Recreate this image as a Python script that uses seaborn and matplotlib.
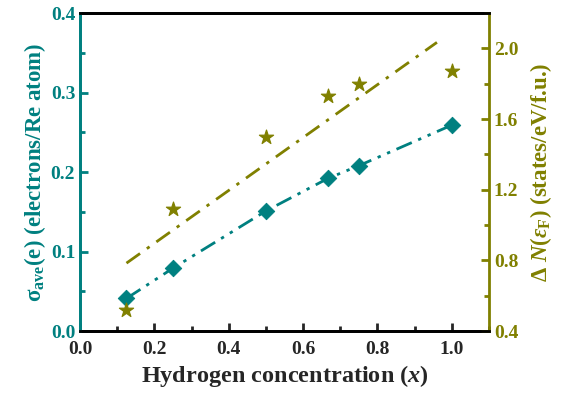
import numpy as np
import pandas as pd
import seaborn as sns
import matplotlib.pyplot as plt
from matplotlib.ticker import MultipleLocator

# data
h_conc = [0.125, 0.25, 0.5, 0.667, 0.75, 1.0]
sigma_ave = [0.041, 0.079, 0.151, 0.192, 0.208, 0.259]
delta_dos = [0.52, 1.09, 1.50, 1.73, 1.80, 1.87]
fit_range = [0.125, 0.96]

teal = "#008080"
olive = "#808000"

sns.set_style("ticks")
plt.rcParams["font.family"] = ["Liberation Serif", "DejaVu Serif"]
plt.rcParams["font.weight"] = "bold"
plt.rcParams["mathtext.fontset"] = "custom"
plt.rcParams["mathtext.rm"] = "Liberation Serif"
plt.rcParams["mathtext.it"] = "Liberation Serif:italic"
plt.rcParams["mathtext.bf"] = "Liberation Serif:bold"
plt.rcParams["mathtext.bfit"] = "Liberation Serif:italic:bold"

df = pd.DataFrame({"x": h_conc, "sigma": sigma_ave, "dos": delta_dos})

# linear fit of the DOS change
slope, icpt = np.polyfit(h_conc, delta_dos, 1)
fit_df = pd.DataFrame({"x": fit_range})
fit_df["y"] = slope * fit_df["x"] + icpt

fig = plt.figure(figsize=(5.73, 3.95), dpi=100)
ax = fig.add_axes([0.1396, 0.162, 0.7138, 0.805])
ax2 = ax.twinx()

# sigma_ave (left axis)
sns.lineplot(data=df, x="x", y="sigma", ax=ax, color=teal, lw=2,
             legend=False)
ax.lines[-1].set_dashes([6, 2.5, 1.2, 2.5, 1.2, 2.5])
sns.scatterplot(data=df, x="x", y="sigma", ax=ax, color=teal, marker="D",
                s=70, edgecolor=teal, zorder=3)

# delta N(eF) (right axis)
sns.lineplot(data=fit_df, x="x", y="y", ax=ax2, color=olive, lw=2,
             legend=False)
ax2.lines[-1].set_dashes([6, 3, 1.2, 3])
sns.scatterplot(data=df, x="x", y="dos", ax=ax2, color=olive, marker="*",
                s=115, edgecolor=olive, zorder=3)

ax.set_xlim(0, 1.1)
ax.set_ylim(0, 0.4)
ax2.set_ylim(0.4, 2.2)

ax.xaxis.set_major_locator(MultipleLocator(0.2))
ax.xaxis.set_minor_locator(MultipleLocator(0.1))
ax.yaxis.set_major_locator(MultipleLocator(0.1))
ax.yaxis.set_minor_locator(MultipleLocator(0.05))
ax2.yaxis.set_major_locator(MultipleLocator(0.4))
ax2.yaxis.set_minor_locator(MultipleLocator(0.2))
ax2.set_yticks([0.4, 0.8, 1.2, 1.6, 2.0])

for a in (ax, ax2):
    for s in a.spines.values():
        s.set_linewidth(2)
        s.set_color("black")
ax2.spines["left"].set_color(teal)
ax2.spines["right"].set_color(olive)
ax.spines["left"].set_color(teal)
ax.spines["right"].set_visible(False)

ax.tick_params(axis="both", which="both", direction="in", width=2,
               labelsize=14, top=False, right=False)
ax.tick_params(which="major", length=6)
ax.tick_params(which="minor", length=3.5)
ax.tick_params(axis="x", pad=7)
ax.tick_params(axis="y", which="both", colors=teal)
ax2.tick_params(axis="y", which="both", direction="in", width=2,
                labelsize=14, colors=olive)
ax2.tick_params(which="major", length=6)
ax2.tick_params(which="minor", length=3.5)
for lab in ax.get_xticklabels() + ax.get_yticklabels() + ax2.get_yticklabels():
    lab.set_fontweight("bold")

ax.set_xlabel(r"Hydrogen concentration ($\mathbfit{x}$)", fontsize=17.5,
              fontweight="bold", labelpad=4)
ax.set_ylabel(r"σ$_{\mathbf{ave}}$(e) (electrons/Re atom)", fontsize=16.5,
              fontweight="bold", color=teal, labelpad=2)
ax2.set_ylabel(r"$\mathbf{\Delta}$ $\mathbfit{N}$($\mathbfit{\varepsilon}_{\mathbf{F}}$) (states/eV/f.u.)",
               fontsize=16.5, fontweight="bold", color=olive, labelpad=7)

plt.savefig("out.png", dpi=100)
